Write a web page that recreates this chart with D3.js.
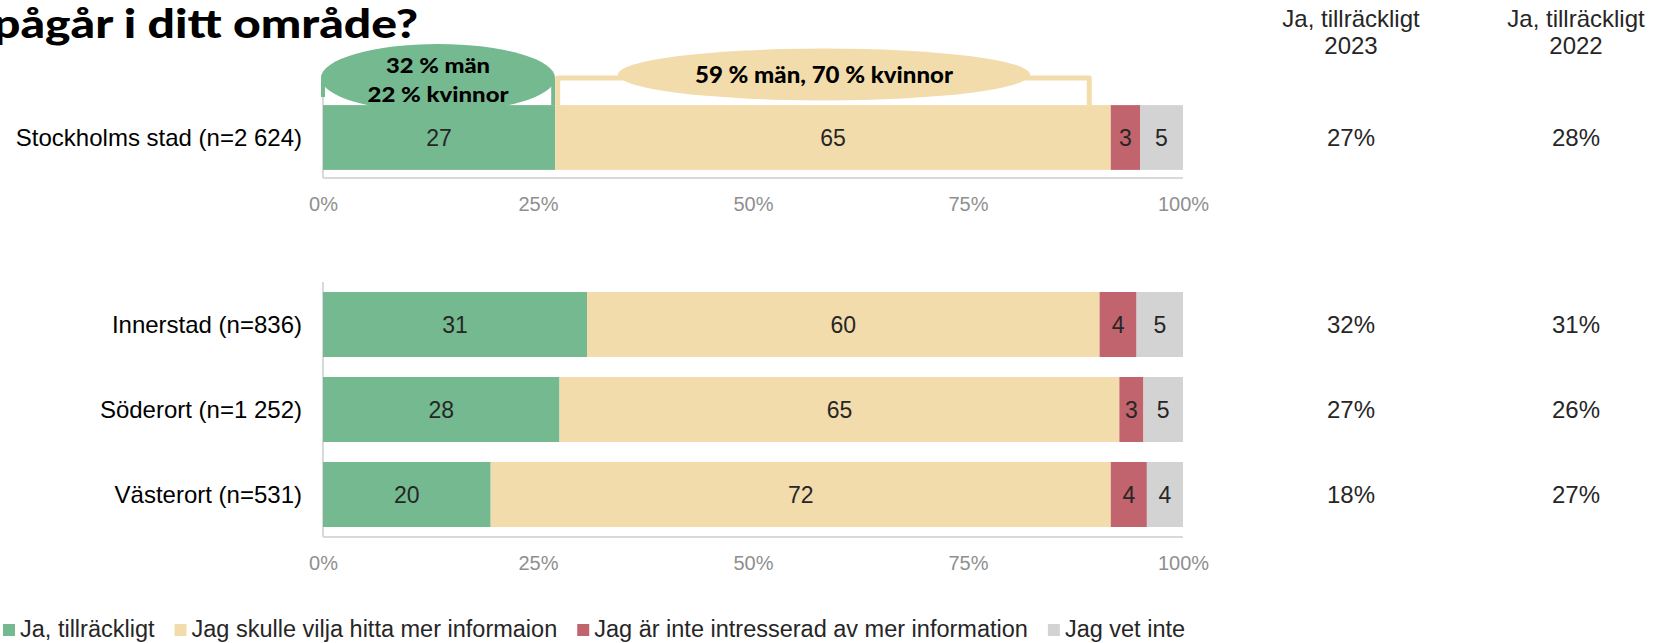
<!DOCTYPE html>
<html>
<head>
<meta charset="utf-8">
<script src="https://cdn.jsdelivr.net/npm/d3@7"></script>
<style>
  body { margin: 0; background: #fff; }
  svg { display: block; }
  text { font-family: "Liberation Sans", Arial, sans-serif; }
  .heavy { font-family: "Lato", "Noto Sans", sans-serif; font-weight: 900; }
</style>
</head>
<body>
<div id="chart"></div>
<script>
// data
let categories = ["Stockholms stad (n=2 624)", "Innerstad (n=836)", "Söderort (n=1 252)", "Västerort (n=531)"];
let seriesNames = ["Ja, tillräckligt", "Jag skulle vilja hitta mer informaion", "Jag är inte intresserad av mer information", "Jag vet inte"];
let jaTillrackligt = [27.0, 30.7, 27.5, 19.5];
let merInformation = [64.6, 59.6, 65.1, 72.1];
let inteIntresserad = [3.4, 4.3, 2.8, 4.2];
let vetInte = [5.0, 5.4, 4.6, 4.2];
let ja2023 = [27, 32, 27, 18];
let ja2022 = [28, 31, 26, 27];
let columnHeads = [["Ja, tillräckligt", "2023"], ["Ja, tillräckligt", "2022"]];
let tickValues = [0, 25, 50, 75, 100];
let titleText = "pågår i ditt område?";
let noteGreen = ["32 % män", "22 % kvinnor"];
let noteBeige = "59 % män, 70 % kvinnor";

let colors = ["#75b990", "#f3dcab", "#c1646d", "#d3d3d3"];
let textCol = "#262626";
let W = 1661, H = 643;

let svg = d3.select("#chart").append("svg")
    .attr("width", W).attr("height", H);

let rows = categories.map(function (c, i) {
    return {cat: c, s0: jaTillrackligt[i], s1: merInformation[i], s2: inteIntresserad[i], s3: vetInte[i]};
});
let keys = ["s0", "s1", "s2", "s3"];
let stack = d3.stack().keys(keys);

let x = d3.scaleLinear().domain([0, 100]).range([323, 1183]);

// two panels: total on top, districts below
let yTop = d3.scaleBand().domain(categories.slice(0, 1)).range([97, 178])
    .paddingInner(0.2).paddingOuter(0.1);
let yBot = d3.scaleBand().domain(categories.slice(1)).range([282, 537])
    .paddingInner(20 / 85).paddingOuter(10 / 85);

// title (cut at left edge like the original)
svg.append("text").attr("class", "heavy")
    .attr("x", -7).attr("y", 38)
    .style("font-size", "40px")
    .attr("textLength", 425).attr("lengthAdjust", "spacingAndGlyphs")
    .attr("fill", "#000")
    .text(titleText);

// annotation brackets + ellipses (drawn under the bars)
let ann = svg.append("g");
ann.append("path")
    .attr("d", "M" + x(0) + "," + yTop.range()[0] + "V80H" + (x(jaTillrackligt[0]) - 2) + "V105")
    .attr("fill", "none").attr("stroke", colors[0]).attr("stroke-width", 4)
    .attr("stroke-linejoin", "round");
ann.append("path")
    .attr("d", "M" + (x(jaTillrackligt[0]) + 2.5) + ",105V78H" + (x(jaTillrackligt[0] + merInformation[0]) - 21.5) + "V105")
    .attr("fill", "none").attr("stroke", colors[1]).attr("stroke-width", 5)
    .attr("stroke-linejoin", "round");
ann.append("ellipse")
    .attr("cx", 438).attr("cy", 78).attr("rx", 117).attr("ry", 34)
    .attr("fill", colors[0]);
ann.append("ellipse")
    .attr("cx", 824).attr("cy", 74.5).attr("rx", 206).attr("ry", 26)
    .attr("fill", colors[1]);
let greenLen = [104, 141];
ann.selectAll(".ng").data(noteGreen).enter().append("text")
    .attr("class", "heavy")
    .attr("x", 438).attr("y", function (d, i) { return 73 + i * 28.5; })
    .attr("text-anchor", "middle")
    .style("font-size", "21px")
    .attr("textLength", function (d, i) { return greenLen[i]; })
    .attr("lengthAdjust", "spacingAndGlyphs")
    .attr("fill", "#000")
    .text(function (d) { return d; });
ann.append("text").attr("class", "heavy")
    .attr("x", 824).attr("y", 83)
    .attr("text-anchor", "middle")
    .style("font-size", "22px")
    .attr("textLength", 258).attr("lengthAdjust", "spacingAndGlyphs")
    .attr("fill", "#000")
    .text(noteBeige);

function draw_panel(rowsPanel, y) {
    let g = svg.append("g");
    let layers = stack(rowsPanel);

    // axis lines
    g.append("line")
        .attr("x1", x(0)).attr("x2", x(100))
        .attr("y1", y.range()[1]).attr("y2", y.range()[1])
        .attr("stroke", "#d9d9d9").attr("stroke-width", 2);
    g.append("line")
        .attr("x1", x(0)).attr("x2", x(0))
        .attr("y1", y.range()[0]).attr("y2", y.range()[1])
        .attr("stroke", "#d9d9d9").attr("stroke-width", 2);

    layers.forEach(function (layer, li) {
        let lg = g.append("g");
        lg.selectAll("rect").data(layer).enter().append("rect")
            .attr("x", function (d) { return x(d[0]); })
            .attr("y", function (d) { return y(d.data.cat); })
            .attr("width", function (d) { return x(d[1]) - x(d[0]); })
            .attr("height", y.bandwidth())
            .attr("fill", colors[li]);
        lg.selectAll("text").data(layer).enter().append("text")
            .attr("x", function (d) { return (x(d[0]) + x(d[1])) / 2; })
            .attr("y", function (d) { return y(d.data.cat) + y.bandwidth() / 2; })
            .attr("dy", "0.36em")
            .attr("text-anchor", "middle")
            .style("font-size", "23px")
            .attr("fill", textCol)
            .text(function (d) { return Math.round(d[1] - d[0]); });
    });

    // category labels
    g.selectAll(".cat").data(rowsPanel).enter().append("text")
        .attr("x", 302)
        .attr("y", function (d) { return y(d.cat) + y.bandwidth() / 2; })
        .attr("dy", "0.36em")
        .attr("text-anchor", "end")
        .style("font-size", "24px")
        .attr("fill", "#000")
        .text(function (d) { return d.cat; });

    // tick labels
    let axis = d3.axisBottom(x).tickValues(tickValues)
        .tickFormat(function (d) { return d + "%"; }).tickSize(0).tickPadding(0);
    let ax = g.append("g")
        .attr("transform", "translate(0," + (y.range()[1] + 26) + ")")
        .call(axis);
    ax.select(".domain").remove();
    ax.selectAll("text")
        .attr("dy", "0.36em").attr("y", 0)
        .style("font-size", "20px")
        .style("font-family", "'Liberation Sans', Arial, sans-serif")
        .attr("fill", "#8f8f8f");
}

draw_panel(rows.slice(0, 1), yTop);
draw_panel(rows.slice(1), yBot);

// right-hand columns
let colX = [1351, 1576];
let colVals = [ja2023, ja2022];
columnHeads.forEach(function (head, ci) {
    let t = svg.append("text")
        .attr("text-anchor", "middle")
        .style("font-size", "24px")
        .attr("fill", textCol);
    head.forEach(function (line, li) {
        t.append("tspan").attr("x", colX[ci]).attr("y", 27 + li * 26.5).text(line);
    });
    svg.selectAll(".col" + ci).data(colVals[ci]).enter().append("text")
        .attr("x", colX[ci])
        .attr("y", function (d, i) {
            let yy = i === 0 ? yTop : yBot;
            return yy(categories[i]) + yy.bandwidth() / 2;
        })
        .attr("dy", "0.36em")
        .attr("text-anchor", "middle")
        .style("font-size", "24px")
        .attr("fill", textCol)
        .text(function (d) { return d + "%"; });
});

// legend
let legend = svg.append("g").attr("transform", "translate(3,629)");
let lx = 0;
seriesNames.forEach(function (name, i) {
    let item = legend.append("g").attr("transform", "translate(" + lx + ",0)");
    item.append("rect").attr("x", 0).attr("y", -5).attr("width", 12).attr("height", 12)
        .attr("fill", colors[i]);
    let t = item.append("text").attr("x", 17).attr("dy", "0.36em")
        .style("font-size", "23.5px").attr("fill", textCol).text(name);
    lx += 17 + t.node().getComputedTextLength() + 20;
});
</script>
</body>
</html>
